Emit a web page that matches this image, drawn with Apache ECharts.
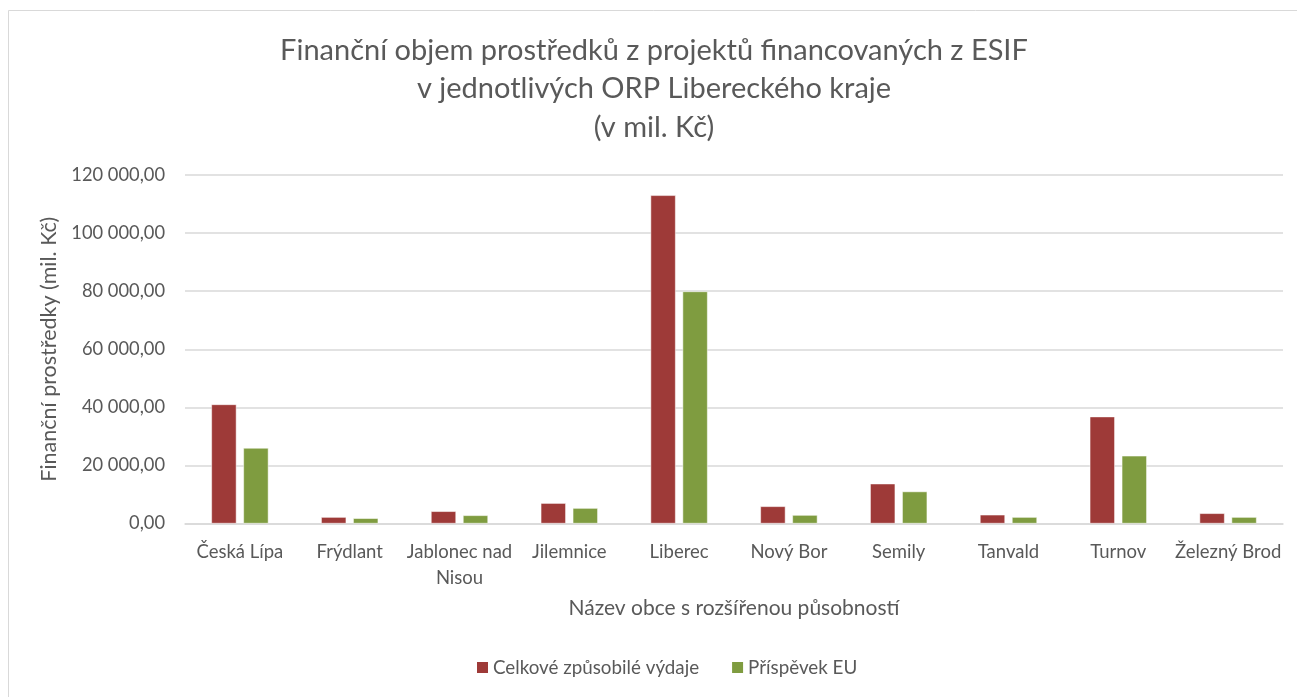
<!DOCTYPE html>
<html>
<head>
<meta charset="utf-8">
<script src="https://cdn.jsdelivr.net/npm/echarts@6/dist/echarts.min.js"></script>
<style>html,body{margin:0;padding:0;background:#fff}#c{width:1297px;height:697px}</style>
</head>
<body>
<div id="c"></div>
<script>
const categories = ["Česká Lípa", "Frýdlant", "Jablonec nad\nNisou", "Jilemnice", "Liberec", "Nový Bor", "Semily", "Tanvald", "Turnov", "Železný Brod"];
const celkove = [41000, 2200, 4200, 7000, 113000, 5900, 13700, 3000, 36800, 3500];
const prispevek = [26000, 1800, 2800, 5300, 79900, 2900, 11000, 2200, 23300, 2200];
const seriesNames = ["Celkové způsobilé výdaje", "Příspěvek EU"];
const yTicks = [0, 20000, 40000, 60000, 80000, 100000, 120000];

const FONT = "Lato, 'Open Sans', sans-serif";
const TXT = "#595959";
function fmt(v) {
  const s = Math.round(v).toString().replace(/\B(?=(\d{3})+(?!\d))/g, " ");
  return s + ",00";
}
const chart = echarts.init(document.getElementById('c'), null, {renderer: 'canvas'});
chart.setOption({
  backgroundColor: '#fff',
  animation: false,
  textStyle: {fontFamily: FONT},
  graphic: [{
    type: 'rect', shape: {x: 8.5, y: 10.5, width: 1300, height: 700},
    style: {fill: 'none', stroke: '#d9d9d9', lineWidth: 1}, silent: true, z: -10
  }],
  title: {
    text: "Finanční objem prostředků z projektů financovaných z ESIF\nv jednotlivých ORP Libereckého kraje\n(v mil. Kč)",
    left: 649, textAlign: 'center', top: 26,
    textStyle: {fontFamily: FONT, fontSize: 29, fontWeight: 'normal', color: TXT, lineHeight: 38.5}
  },
  legend: {
    data: seriesNames, bottom: 15, left: 470,
    itemWidth: 13, itemHeight: 13, itemGap: 31, icon: 'rect',
    textStyle: {fontFamily: FONT, fontSize: 18.8, color: TXT, padding: [0, 0, 0, -1]}
  },
  grid: {left: 185, right: 14, top: 175, bottom: 173.5, containLabel: false},
  xAxis: {
    type: 'category', data: categories,
    name: "Název obce s rozšířenou působností", nameLocation: 'middle', nameGap: 74,
    nameTextStyle: {fontFamily: FONT, fontSize: 21, color: TXT},
    axisLine: {lineStyle: {color: '#d9d9d9', width: 1.5}},
    axisTick: {show: false},
    axisLabel: {fontFamily: FONT, fontSize: 18.5, color: TXT, margin: 16, lineHeight: 26, interval: 0}
  },
  yAxis: {
    type: 'value', min: 0, max: 120000, interval: 20000,
    name: "Finanční prostředky (mil. Kč)", nameLocation: 'middle', nameGap: 122,
    nameTextStyle: {fontFamily: FONT, fontSize: 21.5, color: TXT},
    axisLine: {show: false}, axisTick: {show: false},
    axisLabel: {fontFamily: FONT, fontSize: 18.3, color: TXT, margin: 20, formatter: v => fmt(v)},
    splitLine: {lineStyle: {color: '#d9d9d9', width: 1.5}}
  },
  series: [
    {name: seriesNames[0], type: 'bar', data: celkove, barWidth: 25, barGap: '28%',
     itemStyle: {color: '#9E3A38', borderColor: '#fff', borderWidth: 0.5}},
    {name: seriesNames[1], type: 'bar', data: prispevek, barWidth: 25,
     itemStyle: {color: '#7F9C40', borderColor: '#fff', borderWidth: 0.5}}
  ]
});
</script>
</body>
</html>
